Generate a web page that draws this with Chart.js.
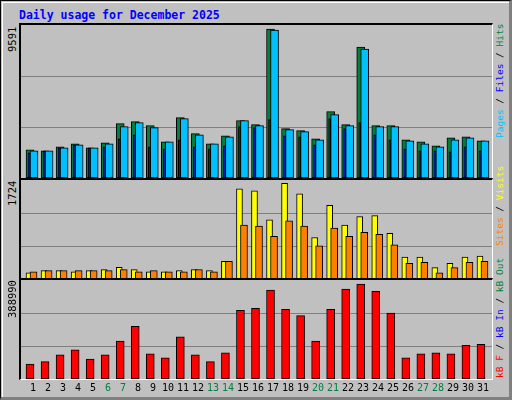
<!DOCTYPE html>
<html><head><meta charset="utf-8">
<script src="https://cdn.jsdelivr.net/npm/chart.js@4"></script>
<style>
body{margin:0;width:512px;height:400px;overflow:hidden;background:#fff}
#frame{position:absolute;left:0;top:0;border:1px solid #000;border-right:3px solid #808080;border-bottom:3px solid #808080;background:#c0c0c0;box-sizing:border-box;width:512px;height:400px}
#inner{position:absolute;left:1px;top:1px;right:0;bottom:0;border-left:1px solid #fff;border-top:1px solid #fff}
.panel{position:absolute;left:19px;width:471px;border-top:2px solid #000;border-left:2px solid #000;border-right:1px solid #fff;border-bottom:1px solid #fff;box-sizing:content-box}
.panel canvas{display:block}
.t{position:absolute;font-family:"DejaVu Sans Mono",monospace;font-size:10px;white-space:nowrap}
.rot{transform-origin:0 0;transform:rotate(-90deg);font-size:9.5px}
</style></head><body>
<div id="frame"><div id="inner"></div></div>
<div class="t" style="left:19px;top:8px;color:#0000ff;font-weight:bold;font-size:11.5px">Daily usage for December 2025</div>
<div class="panel" style="top:23px;height:153px"><div style="position:relative;width:471px;height:153px"><canvas id="c1"></canvas></div></div>
<div class="panel" style="top:178px;height:99px"><div style="position:relative;width:471px;height:99px"><canvas id="c2"></canvas></div></div>
<div class="panel" style="top:278px;height:99px"><div style="position:relative;width:471px;height:99px"><canvas id="c3"></canvas></div></div>
<div class="t rot" style="left:6px;top:52px;font-size:10.5px">9591</div>
<div class="t rot" style="left:6px;top:206px;font-size:10.5px">1724</div>
<div class="t rot" style="left:6px;top:318px;font-size:10.5px">388990</div>
<div class="t rot" style="left:494px;top:138px"><span style="color:#00c0ff">Pages</span> / <span style="color:#0000ff">Files</span> / <span style="color:#008040">Hits</span></div>
<div class="t rot" style="left:494px;top:246px"><span style="color:#ff8000">Sites</span> / <span style="color:#ffff00">Visits</span></div>
<div class="t rot" style="left:494px;top:378px"><span style="color:#ff0000">kB F</span> / <span style="color:#0000ff">kB In</span> / <span style="color:#008040">kB Out</span></div>
<div id="days"></div>
<script>
const days=[1,2,3,4,5,6,7,8,9,10,11,12,13,14,15,16,17,18,19,20,21,22,23,24,25,26,27,28,29,30,31];
const weekend=[6,7,13,14,20,21,27,28];
const hits=[1767,1704,1956,2146,1893,2209,3407,3534,3281,2272,3786,2777,2146,2650,3597,3344,9339,3092,2966,2461,4165,3344,8203,3281,3281,2398,2272,2019,2524,2587,2335];
const files=[1704,1704,1893,2082,1893,2146,3218,3470,3155,2272,3723,2713,2146,2587,3597,3281,9276,3029,2903,2398,3975,3281,8077,3218,3218,2335,2146,1956,2398,2524,2335];
const pages=[1578,1704,1893,2082,1893,1956,2461,2714,1956,1830,2398,1956,1830,2019,3218,3155,3660,2650,2587,2082,3723,3092,3470,2714,2398,1830,1704,1704,1641,1956,1704];
const visits=[108,145,145,127,145,163,205,163,127,127,145,163,145,308,1570,1534,1031,1664,1483,723,1285,940,1085,1103,795,380,380,199,271,380,398];
const sites=[127,145,145,145,145,145,163,127,145,127,127,163,127,308,940,922,741,1013,922,578,886,741,814,777,596,271,289,108,199,289,308];
const kbF=[58431,68223,95153,114738,78015,95153,149015,207369,99237,82911,166153,95153,68223,103317,270000,278000,349000,274000,249000,149015,274000,353000,373000,344000,259000,82911,99237,103317,99237,132153,136237];
const maxTop=9591,maxMid=1724,maxBot=388990;

function mk(id,max,sets){
  const ds=sets.map(s=>({data:s.v.map((y,i)=>({x:days[i]+s.off/15,y})),backgroundColor:s.c,borderColor:'#000',borderWidth:1,barThickness:s.w,borderSkipped:false,grouped:false}));
  new Chart(document.getElementById(id),{type:'bar',data:{datasets:ds},options:{
    responsive:true,maintainAspectRatio:false,animation:false,events:[],
    layout:{padding:0},
    plugins:{legend:{display:false},tooltip:{enabled:false}},
    scales:{
      x:{type:'linear',min:0.6667,max:32,display:false,offset:false},
      y:{min:0,max:max,afterBuildTicks:a=>{a.ticks=[{value:max/3},{value:2*max/3}]},
         ticks:{display:false},border:{display:false},grid:{color:'#808080',drawTicks:false,lineWidth:1}}
    }}});
}
// first dataset is drawn on top
mk('c1',maxTop,[{v:pages,c:'#0000ff',off:3,w:2},{v:files,c:'#00c0ff',off:8,w:8},{v:hits,c:'#008040',off:4,w:8}]);
mk('c2',maxMid,[{v:sites,c:'#ff8000',off:7.5,w:7},{v:visits,c:'#ffff00',off:3,w:6}]);
mk('c3',maxBot,[{v:kbF,c:'#ff0000',off:4,w:8}]);

const dd=document.getElementById('days');
days.forEach(d=>{
  const s=document.createElement('div');s.className='t';
  s.textContent=d;
  s.style.left=(25+15*(d-1)+8-(d>9?6:3))+'px';s.style.top='382px';
  s.style.color=weekend.includes(d)?'#008040':'#000';
  dd.appendChild(s);
});
</script></body></html>
